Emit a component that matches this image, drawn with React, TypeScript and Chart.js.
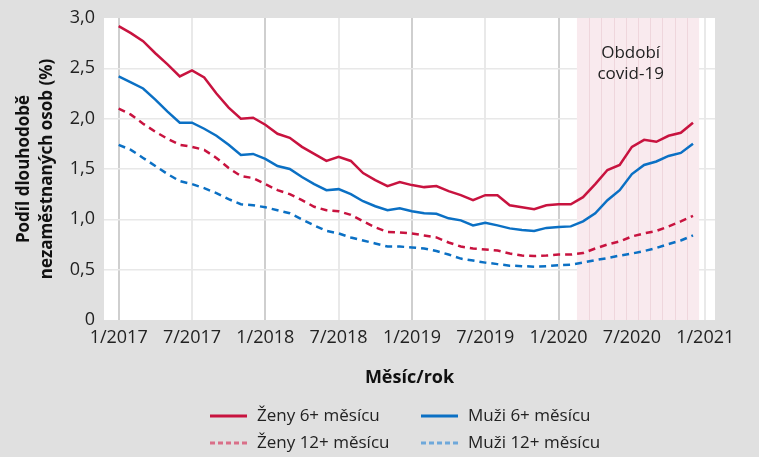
import React, { useEffect, useRef } from 'react';
import { Chart, registerables } from 'chart.js';

Chart.register(...registerables);

// Month index 0 = 1/2017 ... 47 = 12/2020
const tickPositions = [0, 6, 12, 18, 24, 30, 36, 42, 48];
const tickLabels = ['1/2017', '7/2017', '1/2018', '7/2018', '1/2019', '7/2019', '1/2020', '7/2020', '1/2021'];

const zeny6 = [
  2.92, 2.85, 2.77, 2.65, 2.54, 2.42, 2.48, 2.41, 2.25, 2.11, 2.0, 2.01,
  1.94, 1.85, 1.81, 1.72, 1.65, 1.58, 1.62, 1.58, 1.46, 1.39, 1.33, 1.37,
  1.34, 1.32, 1.33, 1.28, 1.24, 1.19, 1.24, 1.24, 1.14, 1.12, 1.1, 1.14,
  1.15, 1.15, 1.22, 1.35, 1.49, 1.54, 1.72, 1.79, 1.77, 1.83, 1.86, 1.96,
];
const muzi6 = [
  2.42, 2.36, 2.3, 2.19, 2.07, 1.96, 1.96, 1.9, 1.83, 1.74, 1.64, 1.65,
  1.6, 1.53, 1.5, 1.42, 1.35, 1.29, 1.3, 1.25, 1.18, 1.13, 1.09, 1.11,
  1.08, 1.06, 1.055, 1.01, 0.99, 0.94, 0.965, 0.94, 0.91, 0.895, 0.885, 0.915,
  0.925, 0.93, 0.98, 1.06, 1.19, 1.29, 1.45, 1.54, 1.575, 1.63, 1.66, 1.75,
];
const zeny12 = [
  2.1, 2.04, 1.95, 1.87, 1.8, 1.74, 1.72, 1.69, 1.61, 1.51, 1.43, 1.41,
  1.35, 1.29, 1.25, 1.19, 1.125, 1.09, 1.08, 1.045, 0.98, 0.92, 0.875, 0.87,
  0.86, 0.84, 0.82, 0.77, 0.73, 0.71, 0.7, 0.69, 0.66, 0.64, 0.635, 0.64,
  0.65, 0.65, 0.665, 0.71, 0.75, 0.78, 0.83, 0.86, 0.885, 0.93, 0.98, 1.035,
];
const muzi12 = [
  1.74, 1.69, 1.61, 1.53, 1.45, 1.38, 1.35, 1.31, 1.26, 1.2, 1.15, 1.14,
  1.12, 1.09, 1.06, 1.0, 0.94, 0.885, 0.86, 0.82, 0.79, 0.76, 0.73, 0.73,
  0.72, 0.71, 0.685, 0.65, 0.61, 0.59, 0.57, 0.555, 0.54, 0.535, 0.53, 0.535,
  0.545, 0.55, 0.57, 0.595, 0.615, 0.64, 0.66, 0.685, 0.715, 0.755, 0.79, 0.84,
];

const covidStart = 37.5; // band from 3/2020
const covidEnd = 47.5; // to 12/2020
const covidLabel = ['Období', 'covid-19'];

const RED = '#c8133f';
const BLUE = '#0b70c4';
const FONT = '"Open Sans", sans-serif';

const toPoints = (arr: number[]) => arr.map((v, i) => ({ x: i, y: v }));

const chartPlugin = {
  id: 'decor',
  beforeDraw(chart: any) {
    const { ctx, chartArea: a, width, height } = chart;
    ctx.save();
    ctx.fillStyle = '#e0e0e0';
    ctx.fillRect(0, 0, width, height);
    ctx.fillStyle = '#ffffff';
    ctx.fillRect(a.left, a.top, a.right - a.left, a.bottom - a.top);
    ctx.restore();
  },
  beforeDatasetsDraw(chart: any) {
    const { ctx, chartArea: a } = chart;
    const xs = chart.scales.x;
    const x0 = xs.getPixelForValue(covidStart);
    const x1 = xs.getPixelForValue(covidEnd);
    ctx.save();
    ctx.fillStyle = '#f9eaee';
    ctx.fillRect(x0, a.top, x1 - x0, a.bottom - a.top);
    ctx.strokeStyle = 'rgba(215,160,175,0.28)';
    ctx.lineWidth = 1;
    for (let m = covidStart + 1; m < covidEnd; m++) {
      const px = Math.round(xs.getPixelForValue(m)) + 0.5;
      ctx.beginPath();
      ctx.moveTo(px, a.top);
      ctx.lineTo(px, a.bottom);
      ctx.stroke();
    }
    ctx.restore();
  },
  afterDatasetsDraw(chart: any) {
    const { ctx } = chart;
    const xs = chart.scales.x;
    const ys = chart.scales.y;
    const cx = xs.getPixelForValue((covidStart + covidEnd) / 2 - 0.6);
    ctx.save();
    ctx.fillStyle = '#222';
    ctx.font = `17px ${FONT}`;
    ctx.textAlign = 'center';
    ctx.textBaseline = 'middle';
    ctx.fillText(covidLabel[0], cx, ys.getPixelForValue(2.65));
    ctx.fillText(covidLabel[1], cx, ys.getPixelForValue(2.44));
    ctx.restore();
  },
  afterDraw(chart: any) {
    const { ctx, height } = chart;
    const colX = [210, 421];
    const rowY = [height - 41, height - 14];
    ctx.save();
    chart.data.datasets.forEach((ds: any, i: number) => {
      const col = i % 2;
      const row = Math.floor(i / 2);
      const x = colX[col];
      const y = rowY[row];
      ctx.beginPath();
      ctx.lineWidth = 3;
      ctx.strokeStyle = ds.borderDash ? (ds.borderColor === RED ? '#d96f88' : '#6ea8da') : ds.borderColor;
      ctx.setLineDash(ds.borderDash ? [5, 3] : []);
      ctx.moveTo(x, y);
      ctx.lineTo(x + 37, y);
      ctx.stroke();
      ctx.setLineDash([]);
      ctx.fillStyle = '#222';
      ctx.font = `17px ${FONT}`;
      ctx.textAlign = 'left';
      ctx.textBaseline = 'middle';
      ctx.fillText(ds.label, x + 47, y);
    });
    ctx.restore();
  },
};

export default function App() {
  const ref = useRef<HTMLCanvasElement | null>(null);
  useEffect(() => {
    if (!ref.current) return;
    const chart = new Chart(ref.current, {
      type: 'line',
      data: {
        datasets: [
          { label: 'Ženy 6+ měsícu', data: toPoints(zeny6), borderColor: RED, borderWidth: 2.5 },
          { label: 'Muži 6+ měsícu', data: toPoints(muzi6), borderColor: BLUE, borderWidth: 2.5 },
          { label: 'Ženy 12+ měsícu', data: toPoints(zeny12), borderColor: RED, borderWidth: 2.5, borderDash: [7, 5] },
          { label: 'Muži 12+ měsícu', data: toPoints(muzi12), borderColor: BLUE, borderWidth: 2.5, borderDash: [7, 5] },
        ] as any,
      },
      options: {
        responsive: false,
        animation: false,
        layout: { padding: { left: 0, right: 44, top: 9, bottom: 65 } },
        plugins: { legend: { display: false }, tooltip: { enabled: false } },
        elements: { point: { radius: 0 }, line: { tension: 0, fill: false } },
        scales: {
          x: {
            type: 'linear',
            min: -1.2,
            max: 48.8,
            afterBuildTicks: (s: any) => {
              s.ticks = tickPositions.map((v) => ({ value: v }));
            },
            afterFit: (s: any) => {
              s.height = 72;
            },
            ticks: {
              autoSkip: false,
              maxRotation: 0,
              padding: 7,
              color: '#222',
              font: { family: FONT, size: 18 },
              callback: (v: any) => {
                const k = tickPositions.indexOf(Number(v));
                return k >= 0 ? tickLabels[k] : '';
              },
            },
            grid: {
              drawTicks: false,
              lineWidth: 2,
              color: (c: any) => {
                const v = c.tick ? c.tick.value : 0;
                return v % 12 === 0 && v < 48 ? '#cfcfcf' : '#e9e9e9';
              },
            },
            border: { display: false },
            title: {
              display: true,
              text: 'Měsíc/rok',
              color: '#111',
              font: { family: FONT, size: 18, weight: 'bold' },
              padding: { top: 4, bottom: 3 },
            },
          },
          y: {
            min: 0,
            max: 3,
            afterFit: (s: any) => {
              s.width = 104;
            },
            ticks: {
              stepSize: 0.5,
              padding: 9,
              color: '#222',
              font: { family: FONT, size: 18, lineHeight: 1 },
              callback: (v: any) => (Number(v) === 0 ? '0' : Number(v).toFixed(1).replace('.', ',')),
            },
            grid: {
              drawTicks: false,
              lineWidth: 1.5,
              color: (c: any) => {
                const v = c.tick ? c.tick.value : 0;
                return v === 0 || v === 3 ? 'rgba(0,0,0,0)' : '#e8e8e8';
              },
            },
            border: { display: false },
            title: {
              display: true,
              text: ['Podíl dlouhodobě', 'nezaměstnaných osob (%)'],
              color: '#111',
              font: { family: FONT, size: 17, weight: 'bold', lineHeight: 1.35 },
              padding: { top: 13, bottom: 0 },
            },
          },
        },
      } as any,
      plugins: [chartPlugin],
    });
    return () => chart.destroy();
  }, []);

  return (
    <div style={{ position: 'fixed', left: 0, top: 0, width: 759, height: 457 }}>
      <canvas ref={ref} width={759} height={457} style={{ display: 'block' }} />
    </div>
  );
}
